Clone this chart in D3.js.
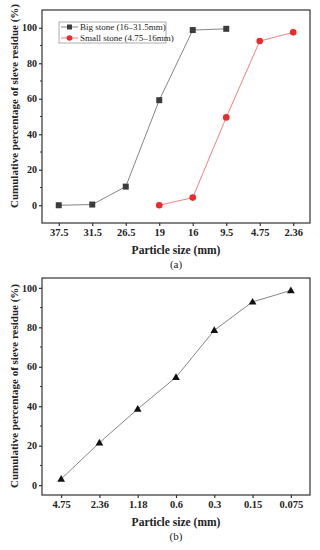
<!DOCTYPE html>
<html>
<head>
<meta charset="utf-8">
<script src="https://cdn.jsdelivr.net/npm/d3@7"></script>
<style>
  body { margin: 0; background: #fff; }
  text { font-family: "Liberation Serif", "DejaVu Serif", serif; }
</style>
</head>
<body>
<div id="chart"></div>
<script>
// panel (a) data
var sizesA = ["37.5", "31.5", "26.5", "19", "16", "9.5", "4.75", "2.36"];
var bigSizes = ["37.5", "31.5", "26.5", "19", "16", "9.5"];
var bigValues = [0, 0.4, 10.5, 59.2, 98.7, 99.4];
var smallSizes = ["19", "16", "9.5", "4.75", "2.36"];
var smallValues = [0, 4.3, 49.5, 92.5, 97.4];
var seriesNames = ["Big stone (16\u201331.5mm)", "Small stone (4.75\u201316mm)"];

// panel (b) data
var sizesB = ["4.75", "2.36", "1.18", "0.6", "0.3", "0.15", "0.075"];
var fineValues = [3.1, 21.5, 38.6, 54.7, 78.5, 92.9, 98.7];

var yTicks = [0, 20, 40, 60, 80, 100];
var yTitle = "Cumulative percentage of sieve residue (%)";
var xTitle = "Particle size (mm)";

var w = 320, h = 550;
var left = 42, right = 310;

var svg = d3.select("#chart").append("svg")
  .attr("width", w)
  .attr("height", h);

function drawPanel(cfg) {
  var x = d3.scalePoint().domain(cfg.cats).range([left, right]).padding(0.5);
  var y = d3.scaleLinear().domain(cfg.ydom).range([cfg.bottom, cfg.top]);
  var g = svg.append("g");

  // frame
  g.append("rect")
    .attr("x", left).attr("y", cfg.top)
    .attr("width", right - left).attr("height", cfg.bottom - cfg.top)
    .attr("fill", "none").attr("stroke", "#333").attr("stroke-width", 1.2);

  // minor y ticks
  var minor = d3.range(10, 101, 20);
  g.selectAll(".minor").data(minor).enter().append("line")
    .attr("x1", left - 2).attr("x2", left)
    .attr("y1", function(d) { return y(d); })
    .attr("y2", function(d) { return y(d); })
    .attr("stroke", "#333").attr("stroke-width", 1);

  var yAxis = d3.axisLeft(y).tickValues(yTicks).tickSize(3).tickPadding(2);
  var ya = g.append("g").attr("transform", "translate(" + left + ",0)").call(yAxis);
  ya.select(".domain").remove();
  ya.selectAll("line").attr("stroke", "#333").attr("stroke-width", 1.2);
  ya.selectAll("text").attr("font-size", "10px").attr("font-weight", "bold")
    .attr("fill", "#222").style("font-family", "Liberation Serif");

  var xAxis = d3.axisBottom(x).tickSize(3).tickPadding(3);
  var xa = g.append("g").attr("transform", "translate(0," + cfg.bottom + ")").call(xAxis);
  xa.select(".domain").remove();
  xa.selectAll("line").attr("stroke", "#333").attr("stroke-width", 1.2);
  xa.selectAll("text").attr("font-size", "10.5px").attr("font-weight", "bold")
    .attr("fill", "#222").style("font-family", "Liberation Serif");

  g.append("text")
    .attr("x", (left + right) / 2).attr("y", cfg.bottom + 31)
    .attr("text-anchor", "middle").attr("font-size", "11.5px").attr("font-weight", "bold")
    .attr("fill", "#222").text(xTitle);

  g.append("text")
    .attr("x", (left + right) / 2).attr("y", cfg.bottom + 45)
    .attr("text-anchor", "middle").attr("font-size", "11px")
    .attr("fill", "#222").text(cfg.label);

  g.append("text")
    .attr("transform", "translate(18," + cfg.ymid + ") rotate(-90)")
    .attr("text-anchor", "middle").attr("font-size", "11px").attr("font-weight", "bold")
    .attr("fill", "#222").text(yTitle);

  return { g: g, x: x, y: y };
}

function drawLine(p, cats, vals, lineColor) {
  var pts = cats.map(function(c, i) { return [p.x(c), p.y(vals[i])]; });
  p.g.append("path")
    .attr("d", d3.line()(pts))
    .attr("fill", "none").attr("stroke", lineColor).attr("stroke-width", 0.9);
  return pts;
}

// panel (a)
var pa = drawPanel({ cats: sizesA, ydom: [-10, 110], top: 10, bottom: 223, ymid: 106, label: "(a)" });
var bigPts = drawLine(pa, bigSizes, bigValues, "#777");
var smallPts = drawLine(pa, smallSizes, smallValues, "#f07070");
pa.g.selectAll(".sq").data(bigPts).enter().append("rect")
  .attr("x", function(d) { return d[0] - 3; })
  .attr("y", function(d) { return d[1] - 3; })
  .attr("width", 6).attr("height", 6).attr("fill", "#3c3c3c");
pa.g.selectAll(".ci").data(smallPts).enter().append("circle")
  .attr("cx", function(d) { return d[0]; })
  .attr("cy", function(d) { return d[1]; })
  .attr("r", 3.3).attr("fill", "#f02828");

// legend
var leg = pa.g.append("g");
leg.append("rect").attr("x", 59).attr("y", 22).attr("width", 107).attr("height", 21)
  .attr("fill", "#fff").attr("stroke", "#999").attr("stroke-width", 0.8);
var legColors = [["#777", "#3c3c3c"], ["#f07070", "#f02828"]];
seriesNames.forEach(function(name, i) {
  var ly = 27 + i * 11;
  leg.append("line").attr("x1", 61).attr("x2", 78).attr("y1", ly).attr("y2", ly)
    .attr("stroke", legColors[i][0]).attr("stroke-width", 0.9);
  if (i === 0) {
    leg.append("rect").attr("x", 67).attr("y", ly - 2.5).attr("width", 5).attr("height", 5)
      .attr("fill", legColors[i][1]);
  } else {
    leg.append("circle").attr("cx", 69.5).attr("cy", ly).attr("r", 2.8)
      .attr("fill", legColors[i][1]);
  }
  leg.append("text").attr("x", 80).attr("y", ly + 3)
    .attr("font-size", "9px").attr("fill", "#222").text(name);
});

// panel (b)
var pb = drawPanel({ cats: sizesB, ydom: [-5, 105], top: 278, bottom: 495, ymid: 386, label: "(b)" });
var finePts = drawLine(pb, sizesB, fineValues, "#777");
var tri = d3.symbol().type(d3.symbolTriangle).size(26);
pb.g.selectAll(".tr").data(finePts).enter().append("path")
  .attr("d", tri)
  .attr("transform", function(d) { return "translate(" + d[0] + "," + (d[1] + 0.5) + ")"; })
  .attr("fill", "#111");
</script>
</body>
</html>
